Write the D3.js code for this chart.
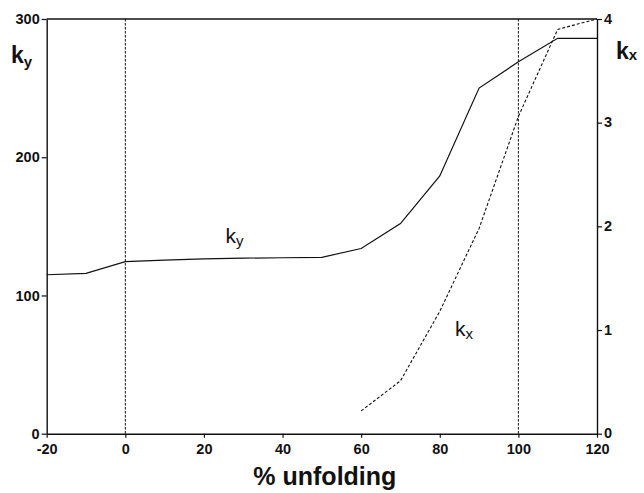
<!DOCTYPE html>
<html><head><meta charset="utf-8">
<script src="https://cdn.jsdelivr.net/npm/d3@7"></script>
<style>body{margin:0;background:#fff}svg{display:block}text{font-family:"Liberation Sans",Arial,Helvetica,sans-serif}</style>
</head><body><svg id="c" width="644" height="493"></svg>
<script>
const kyPercent = [-20,-10,0,10,20,30,40,50,60,70,80,90,100,110,120];
const kyValues  = [115,116,124.5,125.5,126.5,127,127.3,127.6,134,152,186.5,250,269,286,286];
const kxPercent = [60,70,80,90,100,110,120];
const kxValues  = [0.22,0.51,1.18,1.98,3.06,3.90,4.0];
const xTicks = [-20,0,20,40,60,80,100,120];
const yLeftTicks = [0,100,200,300];
const yRightTicks = [0,1,2,3,4];
const refLines = [0,100];

const svg = d3.select("#c");
const L=46.7, R=597, T=19, B=433.7;
const x = d3.scaleLinear().domain([-20,120]).range([L,R]);
const yL = d3.scaleLinear().domain([0,300]).range([B,T]);
const yR = d3.scaleLinear().domain([0,4]).range([B,T]);
const fmt = d => String(d);

// top border
svg.append("line").attr("x1",L).attr("x2",R).attr("y1",T).attr("y2",T).attr("stroke","#111").attr("stroke-width",1.3);

// reference dashed lines
svg.selectAll(".ref").data(refLines).enter().append("line")
  .attr("x1",d=>x(d)).attr("x2",d=>x(d)).attr("y1",T).attr("y2",B)
  .attr("stroke","#111").attr("stroke-width",1).attr("stroke-dasharray","2.5,1.5");

function styleAxis(g){
  g.selectAll("path").attr("stroke","#111").attr("stroke-width",1.4);
  g.selectAll("line").attr("stroke","#111").attr("stroke-width",1.2);
  g.selectAll("text").attr("fill","#111").attr("font-weight","bold").attr("font-size","14.5px").attr("font-family",'"Liberation Sans",Arial,sans-serif');
}
const gx = svg.append("g").attr("transform",`translate(0,${B})`)
  .call(d3.axisBottom(x).tickValues(xTicks).tickFormat(fmt).tickSize(4).tickPadding(6).tickSizeOuter(0));
styleAxis(gx);
const gl = svg.append("g").attr("transform",`translate(${L},0)`)
  .call(d3.axisLeft(yL).tickValues(yLeftTicks).tickFormat(fmt).tickSize(5).tickPadding(2).tickSizeOuter(0));
styleAxis(gl);
const gr = svg.append("g").attr("transform",`translate(${R},0)`)
  .call(d3.axisRight(yR).tickValues(yRightTicks).tickFormat(fmt).tickSize(5).tickPadding(2).tickSizeOuter(0));
styleAxis(gr);
gr.selectAll("text").attr("dy","0.28em");

// series
const kyData = kyPercent.map((p,i)=>[p,kyValues[i]]);
const kxData = kxPercent.map((p,i)=>[p,kxValues[i]]);
svg.append("path").datum(kyData)
  .attr("d",d3.line().x(d=>x(d[0])).y(d=>yL(d[1])))
  .attr("fill","none").attr("stroke","#111").attr("stroke-width",1.2);
svg.append("path").datum(kxData)
  .attr("d",d3.line().x(d=>x(d[0])).y(d=>yR(d[1])))
  .attr("fill","none").attr("stroke","#111").attr("stroke-width",1.1).attr("stroke-dasharray","3,2");

// labels
function klabel(px,py,sub,size,subsize,weight,dy){
  const t = svg.append("text").attr("x",px).attr("y",py).attr("font-size",size+"px").attr("font-weight",weight).attr("fill","#111");
  t.append("tspan").text("k");
  t.append("tspan").attr("dy",dy).attr("font-size",subsize+"px").text(sub);
}
klabel(225.5,243,"y",21,15,"normal",3);
klabel(455,336,"x",21,15,"normal",3);
klabel(11,63,"y",23,15,"bold",4);
klabel(616,59,"x",23,15,"bold",1);

// x title
svg.append("text").attr("x",(L+R)/2+3).attr("y",485).attr("text-anchor","middle")
  .attr("font-size","25px").attr("font-weight","bold").attr("fill","#111").text("% unfolding");
</script></body></html>
